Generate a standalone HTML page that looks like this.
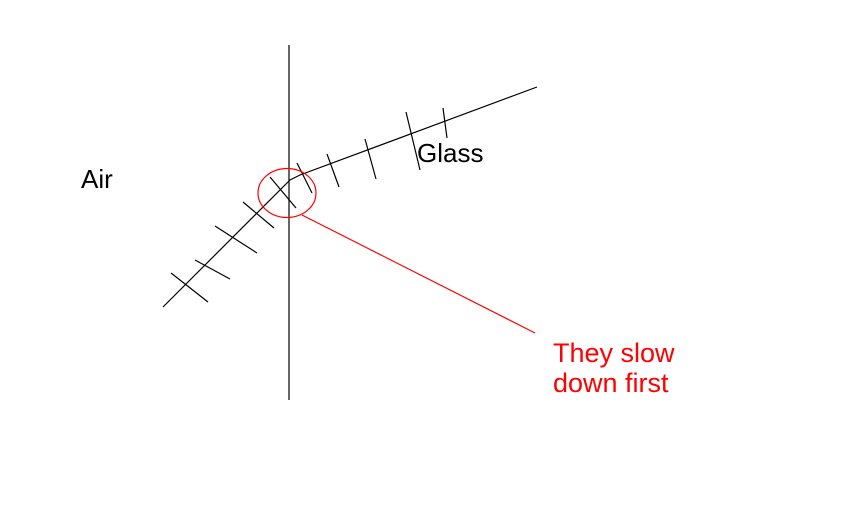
<!DOCTYPE html>
<html><head><style>html,body{margin:0;padding:0;background:#fff}svg{display:block}</style></head>
<body>
<svg width="843" height="528" xmlns="http://www.w3.org/2000/svg">
<g stroke="#000" stroke-width="1.2" fill="none">
<line x1="289" y1="45" x2="289" y2="400"/>
<polyline points="163,307 290,180 300,175 537,87"/>
<line x1="171" y1="273" x2="208" y2="302"/>
<line x1="195" y1="260" x2="230" y2="279"/>
<line x1="215" y1="226" x2="257" y2="253"/>
<line x1="243" y1="202" x2="274" y2="228"/>
<line x1="270" y1="177" x2="296" y2="208"/>
<line x1="297" y1="163" x2="312" y2="193"/>
<line x1="327" y1="154" x2="339" y2="187"/>
<line x1="365" y1="139" x2="376" y2="179"/>
<line x1="406" y1="112" x2="420" y2="170"/>
<line x1="443" y1="108" x2="447" y2="138"/>
</g>
<g stroke="#f00" stroke-width="1.2" fill="none">
<ellipse cx="287" cy="193" rx="29" ry="24.5"/>
<line x1="302" y1="215" x2="535" y2="333"/>
</g>
<g font-family="Liberation Sans, Arial, sans-serif">
<text x="81" y="188" font-size="26">Air</text>
<text x="417" y="162" font-size="26">Glass</text>
<text x="553" y="362" font-size="27" fill="#f00">They slow</text>
<text x="553" y="392" font-size="27" fill="#f00">down first</text>
</g>
</svg>
</body></html>
